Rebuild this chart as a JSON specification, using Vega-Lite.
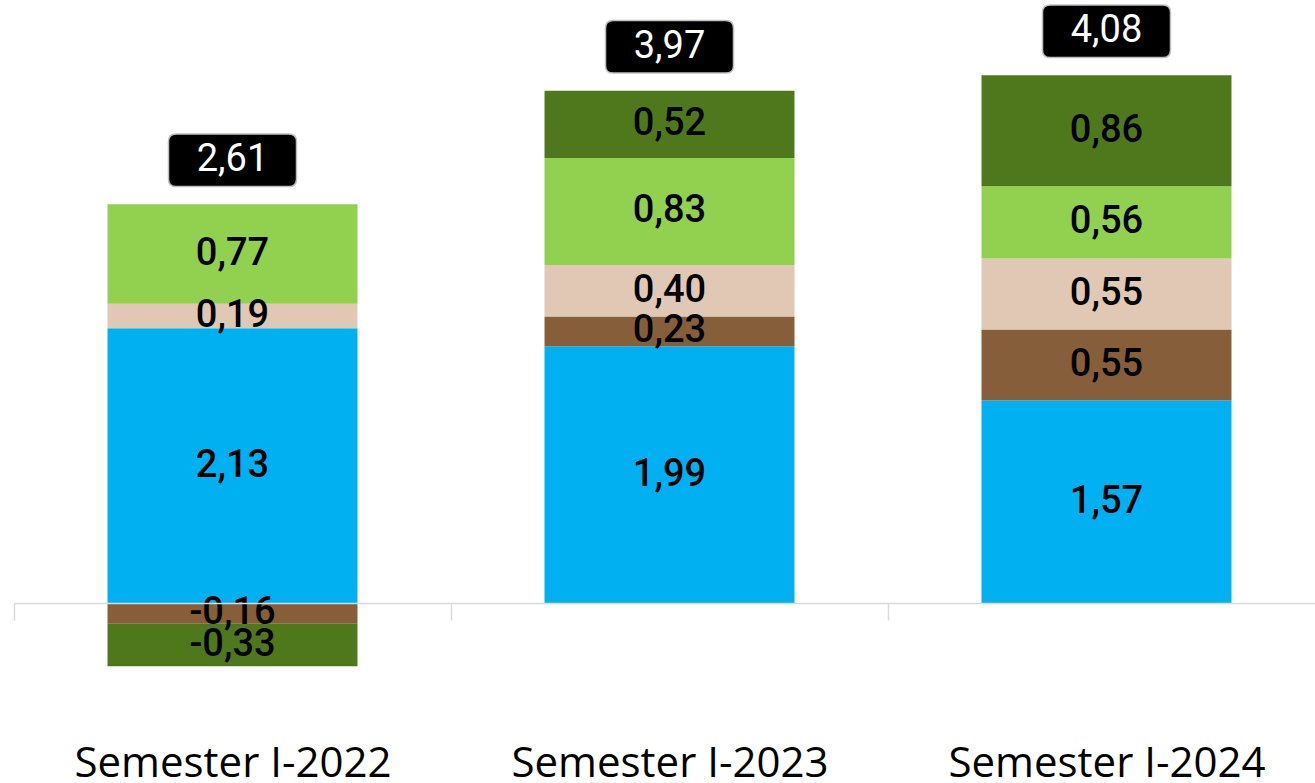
{
  "$schema": "https://vega.github.io/schema/vega-lite/v6.json",
  "width": 1311,
  "height": 700,
  "autosize": {"type": "none"},
  "padding": {"left": 14, "top": 0, "right": 0, "bottom": 83},
  "background": "white",
  "config": {
    "view": {"stroke": null},
    "locale": {"number": {"decimal": ",", "thousands": ".", "grouping": [3], "currency": ["", ""], "minus": "-"}}
  },
  "datasets": {
    "seg": [
      {"periode": "Semester I-2022", "komponen": "K1", "urutan": 1, "nilai": 2.13},
      {"periode": "Semester I-2022", "komponen": "K2", "urutan": 2, "nilai": -0.16},
      {"periode": "Semester I-2022", "komponen": "K3", "urutan": 3, "nilai": 0.19},
      {"periode": "Semester I-2022", "komponen": "K4", "urutan": 4, "nilai": 0.77},
      {"periode": "Semester I-2022", "komponen": "K5", "urutan": 5, "nilai": -0.33},
      {"periode": "Semester I-2023", "komponen": "K1", "urutan": 1, "nilai": 1.99},
      {"periode": "Semester I-2023", "komponen": "K2", "urutan": 2, "nilai": 0.23},
      {"periode": "Semester I-2023", "komponen": "K3", "urutan": 3, "nilai": 0.40},
      {"periode": "Semester I-2023", "komponen": "K4", "urutan": 4, "nilai": 0.83},
      {"periode": "Semester I-2023", "komponen": "K5", "urutan": 5, "nilai": 0.52},
      {"periode": "Semester I-2024", "komponen": "K1", "urutan": 1, "nilai": 1.57},
      {"periode": "Semester I-2024", "komponen": "K2", "urutan": 2, "nilai": 0.55},
      {"periode": "Semester I-2024", "komponen": "K3", "urutan": 3, "nilai": 0.55},
      {"periode": "Semester I-2024", "komponen": "K4", "urutan": 4, "nilai": 0.56},
      {"periode": "Semester I-2024", "komponen": "K5", "urutan": 5, "nilai": 0.86}
    ],
    "tot": [
      {"periode": "Semester I-2022", "total": 2.61},
      {"periode": "Semester I-2023", "total": 3.97},
      {"periode": "Semester I-2024", "total": 4.08}
    ]
  },
  "data": {"name": "seg"},
  "encoding": {
    "x": {
      "field": "periode",
      "type": "nominal",
      "sort": ["Semester I-2022", "Semester I-2023", "Semester I-2024"],
      "scale": {"paddingInner": 0.428, "paddingOuter": 0.214},
      "axis": {
        "title": null,
        "orient": "bottom",
        "offset": -97,
        "domainColor": "#d9d9d9",
        "domainWidth": 1.5,
        "tickColor": "#d9d9d9",
        "tickWidth": 1.5,
        "tickSize": 17,
        "tickOffset": -218.5,
        "labelOffset": 218.5,
        "labelLimit": 0,
        "labelFont": "Open Sans",
        "labelFontSize": 42,
        "labelColor": "black",
        "labelPadding": 156,
        "labelBaseline": "alphabetic",
        "labelAngle": 0,
        "zindex": 1
      }
    }
  },
  "layer": [
    {
      "transform": [
        {"stack": "nilai", "groupby": ["periode"], "sort": [{"field": "urutan"}], "as": ["y0", "y1"], "offset": "zero"}
      ],
      "mark": {"type": "bar"},
      "encoding": {
        "y": {"field": "y0", "type": "quantitative", "scale": {"domain": [-0.752, 4.674], "nice": false, "zero": false}, "axis": null},
        "y2": {"field": "y1"},
        "color": {
          "field": "komponen",
          "type": "nominal",
          "scale": {"domain": ["K1", "K2", "K3", "K4", "K5"], "range": ["#00b0f0", "#865e3a", "#e0c8b4", "#92d050", "#4f781d"]},
          "legend": null
        }
      }
    },
    {
      "transform": [
        {"stack": "nilai", "groupby": ["periode"], "sort": [{"field": "urutan"}], "as": ["y0", "y1"], "offset": "zero"},
        {"calculate": "(datum.y0 + datum.y1) / 2", "as": "ymid"}
      ],
      "mark": {"type": "text", "font": "Roboto", "fontSize": 38, "fontWeight": 500, "color": "black", "baseline": "middle", "align": "center"},
      "encoding": {
        "y": {"field": "ymid", "type": "quantitative"},
        "text": {"field": "nilai", "type": "quantitative", "format": ".2f"}
      }
    },
    {
      "transform": [
        {"filter": "datum.nilai > 0"},
        {"aggregate": [{"op": "sum", "field": "nilai", "as": "puncak"}], "groupby": ["periode"]},
        {"lookup": "periode", "from": {"data": {"name": "tot"}, "key": "periode", "fields": ["total"]}}
      ],
      "layer": [
        {
          "mark": {
            "type": "point",
            "shape": "M-0.88,-0.41 L0.88,-0.41 Q1,-0.41 1,-0.29 L1,0.29 Q1,0.41 0.88,0.41 L-0.88,0.41 Q-1,0.41 -1,0.29 L-1,-0.29 Q-1,-0.41 -0.88,-0.41 Z",
            "size": 16384,
            "filled": true,
            "fill": "black",
            "stroke": "#bfbfbf",
            "strokeWidth": 1.5,
            "opacity": 1,
            "yOffset": -44
          },
          "encoding": {"y": {"field": "puncak", "type": "quantitative"}}
        },
        {
          "mark": {"type": "text", "font": "Roboto", "fontSize": 38, "fontWeight": 400, "color": "white", "baseline": "middle", "align": "center", "dy": -44},
          "encoding": {
            "y": {"field": "puncak", "type": "quantitative"},
            "text": {"field": "total", "type": "quantitative", "format": ".2f"}
          }
        }
      ]
    }
  ]
}
